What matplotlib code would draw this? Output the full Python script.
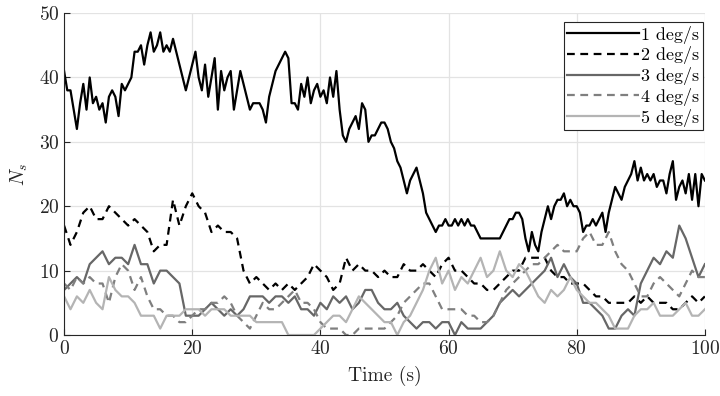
import numpy as np
import matplotlib
matplotlib.use("Agg")
import matplotlib.pyplot as plt

plt.rcParams["font.family"] = "serif"
plt.rcParams["font.serif"] = ["cmr10", "DejaVu Serif"]
plt.rcParams["mathtext.fontset"] = "cm"
plt.rcParams["axes.formatter.use_mathtext"] = True

# sample times (s)
t_fine = np.arange(0, 100.5, 0.5)
t_coarse = np.arange(0, 101, 1)

# N_s for 1 deg/s, read every 0.5 s
ns_1 = [41, 38, 38, 35, 32, 36, 39, 35, 40, 36,
        37, 35, 36, 33, 37, 38, 37, 34, 39, 38,
        39, 40, 44, 44, 45, 42, 45, 47, 44, 45,
        47, 44, 45, 44, 46, 44, 42, 40, 38, 40,
        42, 44, 40, 38, 42, 37, 40, 43, 35, 41,
        38, 40, 41, 35, 38, 41, 39, 37, 35, 36,
        36, 36, 35, 33, 37, 39, 41, 42, 43, 44,
        43, 36, 36, 35, 39, 37, 40, 36, 38, 39,
        37, 38, 36, 40, 37, 41, 35, 31, 30, 32,
        33, 34, 32, 36, 35, 30, 31, 31, 32, 33,
        33, 32, 30, 29, 27, 26, 24, 22, 24, 25,
        26, 24, 22, 19, 18, 17, 16, 17, 17, 18,
        17, 17, 18, 17, 18, 17, 18, 17, 17, 16,
        15, 15, 15, 15, 15, 15, 15, 16, 17, 18,
        18, 19, 19, 18, 15, 13, 16, 14, 13, 16,
        18, 20, 18, 20, 21, 21, 22, 20, 21, 20,
        20, 19, 16, 17, 17, 18, 17, 18, 19, 16,
        19, 21, 23, 22, 21, 23, 24, 25, 27, 24,
        26, 24, 25, 24, 25, 23, 24, 24, 22, 25,
        27, 21, 23, 24, 22, 25, 21, 25, 20, 25,
        24]

# the other rates, read every 1 s
ns_2 = [17, 14, 16, 19, 20, 18, 18, 20, 19, 18,
        17, 18, 17, 16, 13, 14, 14, 21, 17, 20,
        22, 20, 19, 16, 17, 16, 16, 15, 10, 8,
        9, 8, 7, 8, 7, 8, 7, 8, 9, 11,
        10, 9, 7, 8, 12, 10, 11, 10, 10, 9,
        10, 9, 9, 11, 10, 10, 11, 10, 9, 11,
        12, 10, 10, 9, 8, 8, 7, 7, 8, 9,
        10, 10, 12, 12, 12, 12, 10, 9, 9, 8,
        8, 8, 7, 6, 6, 5, 5, 5, 5, 6,
        5, 6, 5, 5, 5, 4, 4, 5, 6, 5,
        6]

ns_3 = [7, 8, 9, 8, 11, 12, 13, 11, 12, 12,
        11, 14, 11, 11, 8, 10, 10, 9, 8, 3,
        3, 3, 4, 5, 4, 3, 4, 3, 4, 6,
        6, 6, 5, 6, 6, 5, 6, 4, 4, 3,
        5, 4, 6, 5, 6, 4, 5, 7, 7, 5,
        4, 4, 5, 3, 2, 1, 2, 2, 1, 2,
        2, 0, 2, 1, 1, 1, 2, 3, 5, 6,
        7, 6, 7, 8, 9, 10, 12, 9, 11, 9,
        8, 5, 5, 4, 3, 1, 1, 3, 4, 3,
        8, 10, 12, 11, 13, 12, 17, 15, 12, 9,
        11]

ns_4 = [8, 7, 9, 8, 9, 8, 8, 5, 9, 11,
        10, 7, 9, 6, 4, 4, 3, 3, 2, 2,
        3, 4, 4, 5, 5, 6, 5, 3, 2, 1,
        3, 5, 4, 4, 5, 6, 7, 5, 5, 4,
        2, 1, 1, 1, 0, 0, 1, 1, 1, 1,
        1, 2, 3, 5, 6, 7, 8, 8, 6, 4,
        4, 4, 4, 3, 3, 2, 2, 3, 5, 7,
        8, 9, 10, 11, 11, 12, 13, 14, 13, 13,
        13, 15, 16, 14, 14, 16, 13, 11, 10, 8,
        6, 6, 8, 9, 8, 7, 6, 8, 10, 9,
        9]

ns_5 = [6, 4, 6, 5, 7, 5, 4, 9, 7, 6,
        6, 5, 3, 3, 3, 1, 3, 3, 3, 4,
        4, 4, 3, 4, 4, 4, 3, 3, 3, 3,
        2, 2, 2, 2, 2, 0, 0, 0, 0, 0,
        1, 2, 3, 3, 2, 4, 6, 5, 4, 3,
        2, 2, 0, 2, 3, 5, 7, 10, 12, 8,
        10, 7, 9, 8, 10, 12, 9, 10, 13, 10,
        9, 11, 10, 8, 6, 5, 7, 6, 7, 9,
        7, 6, 5, 5, 4, 3, 1, 1, 1, 3,
        4, 4, 5, 3, 3, 3, 4, 5, 3, 3,
        4]

labels = ["1 deg/s", "2 deg/s", "3 deg/s", "4 deg/s", "5 deg/s"]

fig = plt.figure(figsize=(7.2, 3.96), dpi=100)
ax = fig.add_axes([0.089, 0.154, 0.89, 0.813])

lw = 1.6
ax.plot(t_fine, ns_1, color="black", lw=lw, label=labels[0])
ax.plot(t_coarse, ns_2, color="black", lw=lw, ls="--", dashes=(3.5, 2.5), label=labels[1])
ax.plot(t_coarse, ns_3, color="#676767", lw=lw, label=labels[2])
ax.plot(t_coarse, ns_4, color="#7f7f7f", lw=lw, ls="--", dashes=(3.5, 2.5), label=labels[3])
ax.plot(t_coarse, ns_5, color="#b4b4b4", lw=lw, label=labels[4])

ax.set_xlim(0, 100)
ax.set_ylim(0, 50)
ax.set_xticks(np.arange(0, 101, 20))
ax.set_yticks(np.arange(0, 51, 10))
ax.grid(True, color="#e3e3e3", lw=0.9)
ax.set_axisbelow(True)
for side in ["top", "right"]:
    ax.spines[side].set_visible(False)
for side in ["left", "bottom"]:
    ax.spines[side].set_color("#262626")
    ax.spines[side].set_linewidth(0.8)
ax.tick_params(direction="in", length=4, width=0.8, colors="#262626",
               labelsize=14, labelcolor="#262626")

ax.set_xlabel("Time (s)", fontsize=14, color="#262626", labelpad=6)
ax.set_ylabel("$N_s$", fontsize=14, color="#262626", labelpad=6)

leg = ax.legend(loc="upper right", bbox_to_anchor=(0.997, 0.972),
                borderaxespad=0, fontsize=13, frameon=True, fancybox=False,
                framealpha=1, edgecolor="#262626", handlelength=4.0,
                handletextpad=0.1, borderpad=0.2, labelspacing=0.15)
leg.get_frame().set_linewidth(0.8)

fig.savefig("out.png", dpi=100)
